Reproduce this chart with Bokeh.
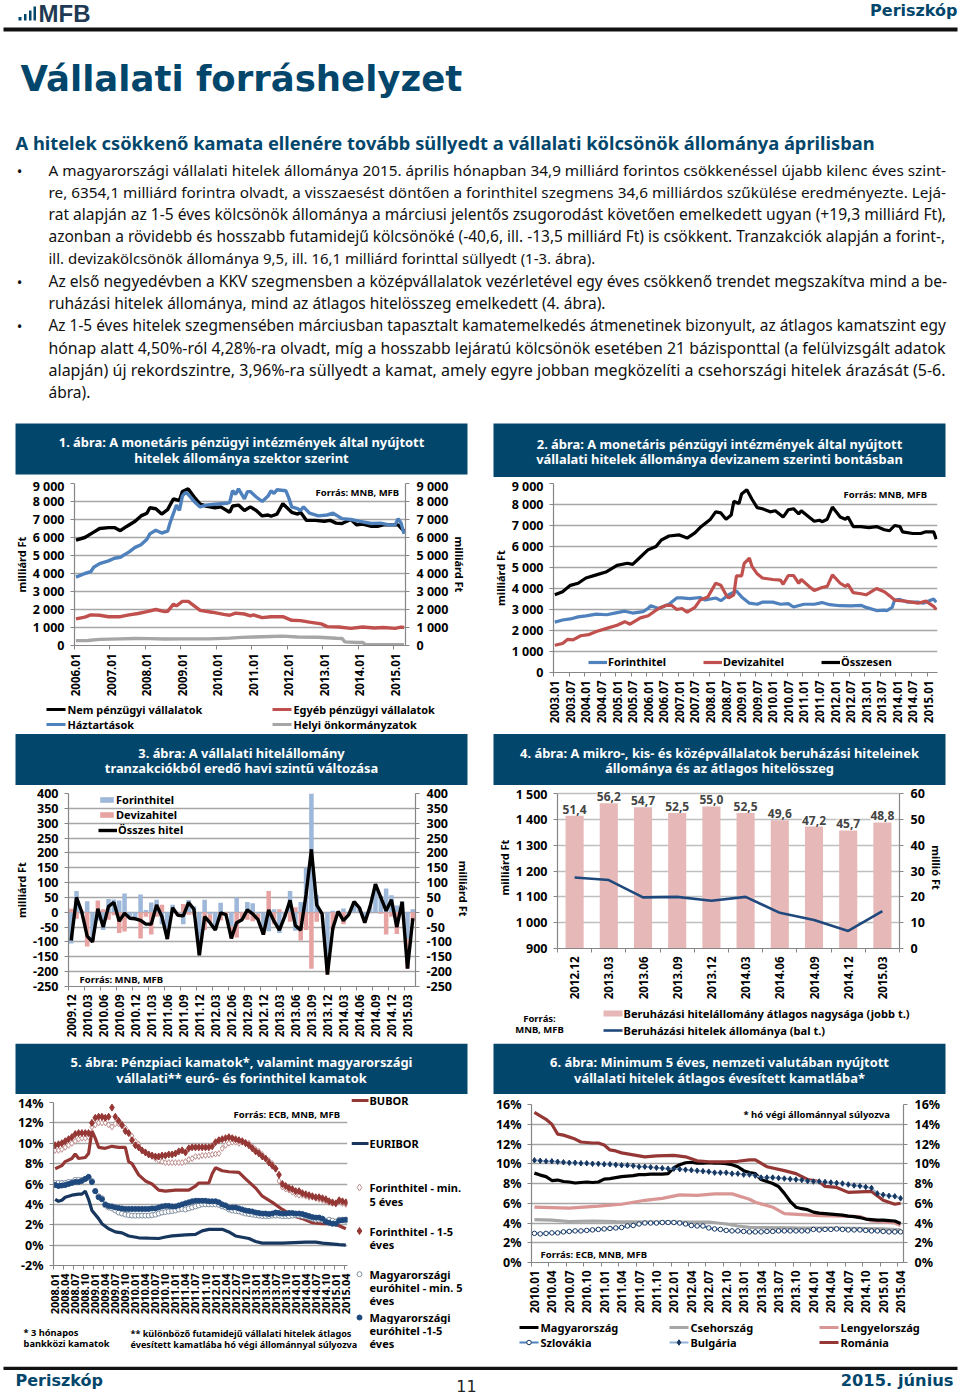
import math
import numpy as np
from bokeh.plotting import figure
from bokeh.models import Range1d, LinearAxis, FixedTicker, Legend, LegendItem, Label, Column, Row
from bokeh.core.properties import value
from bokeh.embed import file_html
from bokeh.resources import INLINE

# ---------- data ----------
c1_black_t = [0,3,6,8,11,13,15,17,20,22,24,25,27,29,31,33,35,36,38,40,42,44,47,49,52,53,55,57,59,61,63,65,66,68,70,73,75,76,78,81,84,86,88,90,93,95,97,100,102,104,107,109,111]
c1_black_v = [5850,6000,6300,6500,6550,6550,6380,6600,6900,7200,7350,7650,7600,7300,7550,8150,8050,8550,8700,8250,7850,7750,7650,7700,7400,7750,7800,7500,7700,7500,7200,7250,7180,7300,7880,7400,7300,7400,6950,6950,6900,6950,6800,6780,7000,6700,6750,6620,6620,6700,6700,6700,6350]
c1_blue_t = [0,3,5,6,8,11,13,15,18,20,22,24,25,27,29,31,32,34,35,36,37,38,40,42,44,47,51,52,53,54,55,57,58,59,61,63,65,66,67,68,71,72,73,75,76,77,79,82,85,87,90,93,96,100,103,106,108,109,110,111]
c1_blue_v = [3800,4000,4100,4350,4550,4700,4850,4900,5200,5450,5600,5900,6200,6400,6250,6350,6900,7800,7500,8300,8500,8400,8000,7700,7800,7850,7900,7950,8600,8400,8700,8150,8550,8550,8250,8000,8300,8600,8450,8650,8600,8200,7700,7600,7500,7700,7350,7200,7250,7350,7050,7000,6900,6780,6800,6700,6700,7050,6800,6200]
c1_red_t = [0,3,5,8,11,15,18,21,24,27,30,31,33,34,36,38,42,46,50,52,54,57,59,60,63,66,70,73,76,79,83,85,89,93,97,101,104,108,110,111]
c1_red_v = [1480,1580,1700,1680,1600,1600,1700,1780,1880,2000,1880,1900,2300,2200,2450,2450,1950,1850,1730,1680,1800,1750,1650,1700,1550,1600,1600,1400,1380,1300,1200,1050,1030,950,1030,970,1000,950,1020,1000]
c1_grey_t = [0,4,8,15,20,25,30,36,45,52,56,60,66,70,75,82,88,90,91,95,97,98,111]
c1_grey_v = [270,280,340,370,390,380,360,370,370,410,450,470,500,520,470,460,400,390,200,170,170,50,50]
c1_years = ["2006.01","2007.01","2008.01","2009.01","2010.01","2011.01","2012.01","2013.01","2014.01","2015.01"]
y_thousands = [0,1000,2000,3000,4000,5000,6000,7000,8000,9000]
y_thousands_lab = ["0","1 000","2 000","3 000","4 000","5 000","6 000","7 000","8 000","9 000"]

c2_black_t = [0,3,6,9,12,16,20,24,28,30,33,36,39,41,44,48,51,54,56,60,62,64,66,68,69,71,72,74,76,78,80,83,85,88,90,92,94,95,97,100,102,103,105,107,110,112,113,115,118,121,124,127,129,131,133,134,138,141,143,146,147]
c2_black_v = [3700,3850,4150,4250,4500,4650,4800,5100,5200,5150,5500,5850,6000,6300,6500,6550,6400,6650,6900,7300,7650,7600,7300,7500,8150,8050,8500,8700,8250,7850,7800,7650,7700,7400,7750,7800,7550,7700,7500,7200,7250,7180,7300,7880,7400,7300,7400,6950,6950,6900,6950,6800,6750,7000,6950,6700,6620,6620,6700,6700,6350]
c2_blue_t = [0,3,6,9,12,16,20,24,27,30,34,36,37,40,44,47,49,52,56,58,62,64,67,70,72,75,78,80,84,87,90,92,96,100,103,106,110,114,118,120,124,127,128,130,131,133,136,140,142,146,147]
c2_blue_v = [2400,2500,2550,2650,2700,2780,2750,2850,2920,2830,2900,3050,3180,3050,3250,3550,3550,3520,3570,3450,3550,3420,3700,3880,3600,3300,3250,3350,3350,3250,3280,3120,3250,3250,3330,3230,3180,3170,3200,3100,2950,2970,2950,3100,3450,3480,3350,3350,3300,3500,3350]
c2_red_t = [0,3,5,7,10,13,16,20,24,27,29,33,36,40,43,45,47,49,51,54,56,59,62,64,66,67,69,70,72,73,75,76,78,80,84,87,88,90,92,94,95,98,100,103,105,107,110,112,113,115,118,120,122,124,127,129,131,135,140,143,146,147]
c2_red_v = [1300,1380,1580,1550,1750,1800,1950,2100,2250,2420,2300,2600,2700,3050,3200,3200,3000,3050,2870,3100,3450,3600,4250,4150,3700,3550,3700,4600,4600,5200,5450,5050,4700,4500,4430,4400,4200,4620,4620,4250,4430,4100,3900,4050,4100,4650,4250,4100,4200,3800,3750,3700,3850,4000,3850,3650,3450,3400,3300,3400,3150,3000]
c2_labels = ["2003.01","2003.07","2004.01","2004.07","2005.01","2005.07","2006.01","2006.07","2007.01","2007.07","2008.01","2008.07","2009.01","2009.07","2010.01","2010.07","2011.01","2011.07","2012.01","2012.07","2013.01","2013.07","2014.01","2014.07","2015.01"]

c3_forint = [-105,72,-5,37,-95,-28,-60,45,43,40,63,-15,-19,60,8,33,42,-40,-82,25,-2,-40,41,20,-140,42,-7,-45,32,0,-48,50,0,35,30,-5,-65,-64,10,-70,-12,72,-62,35,150,402,57,-2,-160,5,0,13,-5,33,13,-25,15,90,55,80,57,23,37,-90,10]
c3_deviza = [12,-22,5,-115,-5,40,10,-25,-10,-70,-65,-5,-3,-88,-15,-75,-15,25,-8,-3,-10,28,-8,-10,-5,-60,-28,-15,-28,-8,-40,-85,-25,-25,-30,-20,-10,72,-40,10,-3,-32,17,-95,-60,-190,-32,-3,-50,-60,3,-40,-3,3,2,-10,5,5,-5,-75,-15,-73,-2,-100,-30]
c3_total = [-95,50,0,-80,-100,12,-50,20,33,-30,-3,-20,-22,-27,-40,-40,25,-15,-90,15,-10,-12,33,10,-145,-15,-35,-60,-2,-8,-88,-35,-25,8,-5,-25,-75,8,-30,-60,-15,40,-45,-60,60,212,25,-5,-210,-55,3,-28,-8,36,15,-35,20,95,50,5,42,-50,35,-190,-20]
c3_labels = ["2009.12","2010.03","2010.06","2010.09","2010.12","2011.03","2011.06","2011.09","2011.12","2012.03","2012.06","2012.09","2012.12","2013.03","2013.06","2013.09","2013.12","2014.03","2014.06","2014.09","2014.12","2015.03"]
c3_y = [-250,-200,-150,-100,-50,0,50,100,150,200,250,300,350,400]

c4_cats = ["2012.12","2013.03","2013.06","2013.09","2013.12","2014.03","2014.06","2014.09","2014.12","2015.03"]
c4_avg = [51.4,56.2,54.7,52.5,55.0,52.5,49.6,47.2,45.7,48.8]
c4_stock = [1175,1165,1098,1100,1085,1100,1038,1010,968,1045]
c4_left = [900,1000,1100,1200,1300,1400,1500]
c4_left_lab = ["900","1 000","1 100","1 200","1 300","1 400","1 500"]
c4_right = [0,10,20,30,40,50,60]

c5_bubor_t = [0,2,3,5,6,7,9,10,11,12,13,15,17,19,21,22,23,25,27,29,31,33,36,38,40,42,43,46,47,48,50,52,55,57,60,62,65,68,71,74,77,80,83,85,87]
c5_bubor_v = [7.5,7.8,8.2,8.5,8.95,8.5,8.6,9.0,11.2,10.5,9.6,9.5,9.7,9.6,9.6,8.2,8.0,6.9,6.3,6.0,5.4,5.3,5.4,5.4,5.4,5.8,6.1,6.1,7.0,7.6,7.3,7.2,7.15,6.5,5.6,4.8,4.2,3.5,2.9,2.6,2.2,2.1,2.1,1.9,1.6]
c5_euribor_t = [0,1,2,3,5,7,8,9,10,11,13,14,16,18,20,22,25,28,31,33,35,37,39,42,44,46,50,52,54,58,60,62,68,75,78,80,85,87]
c5_euribor_v = [4.5,4.3,4.4,4.7,4.9,5.0,5.0,5.3,4.5,3.4,2.6,2.1,1.6,1.3,1.2,0.9,0.72,0.68,0.65,0.8,0.9,0.95,1.0,1.05,1.4,1.55,1.55,1.3,0.9,0.65,0.35,0.2,0.2,0.3,0.3,0.2,0.05,0.0]
c5_f5 = [9.3,9.3,9.4,9.6,9.8,10,10.2,10.4,10.5,10.5,10.6,11.6,11.8,12,12,12,11.8,11.6,11.9,11.9,11.7,11.5,11,10.7,10.2,9.9,9.3,9.1,8.9,8.7,8.5,8.3,8.2,8.1,8.1,8.1,8.1,8.1,8.1,8.2,8.4,8.5,8.7,8.7,8.8,8.8,8.85,8.9,8.95,9.0,9.5,9.8,10.0,10.1,10.1,10.0,10.1,10.1,10.0,9.7,9.4,9.2,8.9,8.5,8.3,8.0,7.5,6.3,5.7,5.5,5.4,5.2,5.0,4.9,4.9,4.8,4.7,4.7,4.6,4.5,4.4,4.3,4.2,4.1,4.1,4.3,4.1,4.0]
c5_f15 = [9.8,9.9,10,10.2,10.4,10.6,10.9,11,11,11,11,12,12.5,12.6,12.6,12.5,12.6,13.5,12.6,12.2,11.8,11.2,11,10.3,9.8,9.6,9.3,9.1,8.9,8.8,8.7,8.7,8.8,8.8,8.9,8.9,9,9.2,9.3,9.1,9.5,9.6,9.6,9.6,9.6,9.6,9.6,9.7,10.1,10.3,10.4,10.5,10.6,10.5,10.4,10.3,10.2,10,9.8,9.5,9.2,9,8.7,8.5,8.1,7.8,7.5,6.9,6,5.8,5.6,5.5,5.3,5.3,5.1,5,4.9,4.8,4.7,4.7,4.6,4.5,4.3,4.2,4.1,4.4,4.3,4.2]
c5_e5 = [6.1,6.1,6.1,6.1,6.2,6.2,6.4,6.4,6.4,6.5,6.6,6.3,5.3,4.8,4.6,3.9,3.7,3.6,3.4,3.2,3.1,3.0,2.95,2.9,2.9,2.9,2.9,2.9,2.9,2.95,3.0,3.1,3.2,3.25,3.3,3.35,3.4,3.5,3.55,3.5,3.6,3.7,3.8,3.9,4.0,4.0,4.0,4.0,4.0,3.95,3.8,3.7,3.5,3.4,3.35,3.3,3.2,3.1,3.05,3.0,2.95,2.9,2.85,2.85,2.85,2.9,2.9,2.9,2.85,2.85,2.85,2.9,2.95,2.9,2.85,2.8,2.7,2.6,2.5,2.5,2.45,2.4,2.5,2.4,2.3,2.5,2.5,2.4]
c5_e15 = [5.9,5.8,5.85,5.9,6.0,6.1,6.2,6.2,6.3,6.5,6.7,6.2,5.3,4.7,4.5,4.0,3.85,3.8,3.7,3.65,3.6,3.55,3.55,3.55,3.55,3.55,3.55,3.55,3.55,3.6,3.6,3.7,3.8,3.85,3.85,3.8,3.8,3.9,4.0,4.1,4.2,4.3,4.35,4.35,4.35,4.35,4.3,4.3,4.3,4.2,4.0,3.9,3.7,3.7,3.7,3.6,3.5,3.4,3.35,3.3,3.2,3.15,3.1,3.1,3.05,3.1,3.2,3.15,3.1,3.1,3.15,3.15,3.1,3.1,3.05,2.95,2.85,2.75,2.7,2.7,2.6,2.3,2.2,2.1,2.1,2.4,2.45,2.5]
c5_labels = [f"{y}.{m:02d}" for y in range(2008, 2016) for m in (1, 4, 7, 10)][:30]
pct5 = [-2,0,2,4,6,8,10,12,14]
pct6 = [0,2,4,6,8,10,12,14,16]

c6_hu = [9.05,8.85,8.7,8.3,8.35,8.2,8.15,8.05,8.1,8.15,8.1,8.15,8.45,8.5,8.6,8.7,8.75,8.8,8.9,8.9,8.95,8.95,8.95,9.0,9.6,9.9,10.1,10.15,10.05,10.05,10.1,10.05,10.05,10,9.9,9.7,9.3,9.1,9.0,8.4,8.2,8.0,7.7,7.0,6.2,5.6,5.45,5.35,5.1,5.0,4.95,4.9,4.85,4.8,4.7,4.65,4.55,4.4,4.35,4.3,4.3,4.25,4.2,3.95]
c6_cz_t = [0,3,6,10,14,20,30,33,35,37,45,55,60,63]
c6_cz_v = [4.35,4.3,4.15,4.2,4.15,4.1,4.1,3.9,3.7,3.55,3.5,3.45,3.4,3.3]
c6_pl_t = [0,6,11,15,19,22,25,28,31,34,37,38,41,43,46,49,53,56,58,62,63]
c6_pl_v = [5.6,5.5,5.7,5.9,6.3,6.5,6.85,6.8,6.95,6.95,6.4,6.1,5.6,4.95,4.85,4.75,4.7,4.65,4.2,4.0,3.75]
c6_sk = [2.95,2.9,2.95,3,3,3.1,3.15,3.2,3.2,3.25,3.3,3.35,3.4,3.45,3.5,3.55,3.7,3.75,3.9,4,4,4,4.05,4.05,4.05,4,3.9,3.75,3.7,3.7,3.5,3.4,3.35,3.25,3.2,3.2,3.15,3.1,3.1,3.1,3.15,3.15,3.2,3.2,3.2,3.2,3.2,3.2,3.35,3.3,3.35,3.35,3.4,3.35,3.3,3.3,3.3,3.25,3.2,3.2,3.15,3.1,3.1,3.1]
c6_bg = [10.35,10.3,10.25,10.25,10.2,10.15,10.1,10.1,10.05,10.05,10,10,9.95,9.95,9.9,9.85,9.85,9.8,9.7,9.7,9.65,9.6,9.55,9.5,9.5,9.45,9.4,9.35,9.3,9.25,9.2,9.1,9.1,9.1,9,9,8.9,8.9,8.8,8.6,8.6,8.6,8.55,8.5,8.45,8.4,8.35,8.25,8.2,8.2,8.15,8.1,8.05,8,7.9,7.8,7.75,7.65,7.55,7,6.85,6.75,6.7,6.5]
c6_ro_t = [0,2,3,4,5,7,8,10,11,12,13,14,15,16,18,19,21,24,26,28,30,33,35,37,38,40,43,45,47,49,50,52,54,58,60,62,63]
c6_ro_v = [15.2,14.5,14.0,13.0,12.9,12.5,12.2,12.1,12.1,11.9,11.4,11.3,11.1,11,10.8,10.7,10.8,10.85,10.7,10.3,10.2,10.2,10.25,10.4,10.4,9.7,9.3,9.0,8.4,8.2,7.7,7.6,7.1,7.2,6.3,5.9,6.0]
c6_labels = [f"{y}.{m:02d}" for y in range(2010, 2016) for m in (1, 4, 7, 10)][:22]

body_lines = [
 "A magyarországi vállalati hitelek állománya 2015. április hónapban 34,9 milliárd forintos csökkenéssel újabb kilenc éves szint-",
 "re, 6354,1 milliárd forintra olvadt, a visszaesést döntően a forinthitel szegmens 34,6 milliárdos szűkülése eredményezte. Lejá-",
 "rat alapján az 1-5 éves kölcsönök állománya a márciusi jelentős zsugorodást követően emelkedett ugyan (+19,3 milliárd Ft),",
 "azonban a rövidebb és hosszabb futamidejű kölcsönöké (-40,6, ill. -13,5 milliárd Ft) is csökkent. Tranzakciók alapján a forint-,",
 "ill. devizakölcsönök állománya 9,5, ill. 16,1 milliárd forinttal süllyedt (1-3. ábra).",
 "Az első negyedévben a KKV szegmensben a középvállalatok vezérletével egy éves csökkenő trendet megszakítva mind a be-",
 "ruházási hitelek állománya, mind az átlagos hitelösszeg emelkedett (4. ábra).",
 "Az 1-5 éves hitelek szegmensében márciusban tapasztalt kamatemelkedés átmenetinek bizonyult, az átlagos kamatszint egy",
 "hónap alatt 4,50%-ról 4,28%-ra olvadt, míg a hosszabb lejáratú kölcsönök esetében 21 bázisponttal (a felülvizsgált adatok",
 "alapján) új rekordszintre, 3,96%-ra süllyedt a kamat, amely egyre jobban megközelíti a csehországi hitelek árazását (5-6.",
 "ábra).",
]
body_sizes = [15.3, 15.32, 15.6, 15.49, 14.95, 15.55, 15.5, 15.41, 15.84, 16.04, 15.5]

# ---------- helpers ----------
NAVY = "#03466B"
FONT = "Noto Sans"
AX = 12.5
GRID = "#A6A6A6"
AXL = "#868686"
BLUE, RED, GREY = "#4F81BD", "#C0504D", "#A6A6A6"

def T(p, x, y, s, size, color="black", font=FONT, bold=False, align="left", base="middle"):
    p.text([x], [y], text=[s], text_font=value(font), text_font_size=value(f"{size}px"),
           text_font_style="bold" if bold else "normal", text_color=color,
           text_align=align, text_baseline=base)

def canvas(y0, y1, x0=0, x1=960):
    p = figure(width=x1 - x0, height=y1 - y0, x_range=Range1d(x0, x1), y_range=Range1d(y1, y0),
               toolbar_location=None, output_backend="svg", min_border=0, outline_line_color=None,
               frame_align=False)
    p.axis.visible = False
    p.grid.visible = False
    return p

def banner(p, x0, x1, y0, y1, l1, l2, c1, c2):
    p.quad(left=[x0], right=[x1], top=[y0], bottom=[y1], fill_color=NAVY, line_color=None)
    xc = (x0 + x1) / 2
    T(p, xc, c1, l1, 12.9, "white", bold=True, align="center")
    T(p, xc, c2, l2, 12.9, "white", bold=True, align="center")

def chart(w, h, l, r, t, b, xr, yr, page_left, page_bottom):
    p = figure(width=w, height=h, x_range=Range1d(*xr), y_range=Range1d(*yr), toolbar_location=None,
               output_backend="svg", min_border_left=l, min_border_right=r, min_border_top=t,
               min_border_bottom=b, outline_line_color=None, x_axis_type="linear", frame_align=False)
    p.xgrid.visible = False
    p.ygrid.grid_line_color = GRID
    p.ygrid.grid_line_width = 1.5
    p.tags = [page_left, page_bottom]
    return p

def style(ax, ticks, labels, size=AX, standoff=6):
    ax.ticker = FixedTicker(ticks=list(ticks))
    ax.major_label_overrides = {t: s for t, s in zip(ticks, labels)}
    ax.major_label_text_font = FONT
    ax.major_label_text_font_style = "bold"
    ax.major_label_text_font_size = f"{size}px"
    ax.major_label_text_color = "black"
    ax.axis_line_color = AXL
    ax.axis_line_width = 1.2
    ax.major_tick_line_color = AXL
    ax.major_tick_in = 0
    ax.major_tick_out = 4
    ax.minor_tick_line_color = None
    ax.major_label_standoff = standoff
    ax.axis_label_text_font = FONT
    ax.axis_label_text_font_style = "bold"
    ax.axis_label_text_font_size = "11px"
    ax.axis_label_text_color = "black"
    ax.axis_label_standoff = 1

def xstyle(ax, centers, labels, bounds, size=11.5):
    style(ax, centers, labels, size, 4)
    ax.ticker = FixedTicker(ticks=list(centers), minor_ticks=list(bounds))
    ax.major_tick_out = 0
    ax.minor_tick_line_color = AXL
    ax.minor_tick_out = 4
    ax.minor_tick_in = 0
    ax.major_label_orientation = math.pi / 2

def L(p, px, py, s, size=10, bold=True, align="left", color="black"):
    fl, fb = p.tags
    p.add_layout(Label(x=px - fl, y=fb - py, x_units="screen", y_units="screen", text=s,
                       text_font=FONT, text_font_style="bold" if bold else "normal",
                       text_font_size=f"{size}px", text_color=color, text_align=align,
                       text_baseline="middle"))

def LG(p, px, py, s, rends, gw=19, gh=14, size=11):
    fl, fb = p.tags
    leg = Legend(items=[LegendItem(label=value(s), renderers=rends)], location=(px - fl, fb - py - 7),
                 padding=0, margin=0, spacing=0, label_standoff=1, glyph_width=gw, glyph_height=gh,
                 label_height=14, background_fill_alpha=0, border_line_color=None,
                 label_text_font=FONT, label_text_font_style="bold", label_text_font_size=f"{size}px",
                 label_text_color="black", label_text_baseline="middle")
    p.add_layout(leg, "center")

def KL(p, x, y, s, color, size=10.9, w=3.2, gap=20):
    p.segment([x], [y], [x + 19], [y], line_color=color, line_width=w)
    T(p, x + gap + 1, y, s, size, bold=True)

def mid(a):
    return [v + 0.5 for v in a]

def idx(a):
    return np.arange(len(a)) + 0.5

# ---------- header ----------
hd = canvas(0, 477)
hd.quad(left=[18, 23.5, 28.5, 33], right=[21, 26, 31, 35.5], top=[16.5, 13.5, 10, 6], bottom=[20, 20, 20, 20],
        fill_color=NAVY, line_color=None)
T(hd, 38, 12.5, "MFB", 24, "#1F3A52", "Liberation Sans", True)
T(hd, 957, 10, "Periszkóp", 16, NAVY, "DejaVu Sans", True, align="right")
hd.quad(left=[3], right=[957], top=[27], bottom=[31], fill_color="#111111", line_color=None)
T(hd, 20, 78, "Vállalati forráshelyzet", 35.5, NAVY, "DejaVu Sans", True)
T(hd, 15, 141.5, "A hitelek csökkenő kamata ellenére tovább süllyedt a vállalati kölcsönök állománya áprilisban",
  18.3, NAVY, FONT, True)
ys = [169.5, 191.5, 213.5, 235.5, 257.5, 280.5, 302.5, 324.5, 347.5, 369.5, 391.5]
for line, y, sz in zip(body_lines, ys, body_sizes):
    T(hd, 48, y, line, sz, "#111111", FONT)
for y in (170, 281, 325):
    T(hd, 19, y, "•", 15, "#111111", FONT, align="center")
banner(hd, 15, 467, 423, 474, "1. ábra: A monetáris pénzügyi intézmények által nyújtott",
       "hitelek állománya szektor szerint", 441, 457)
banner(hd, 493, 945, 423, 477, "2. ábra: A monetáris pénzügyi intézmények által nyújtott",
       "vállalati hitelek állománya devizanem szerinti bontásban", 443, 458)

# ---------- chart 1 ----------
c1 = chart(480, 226, 74, 75, 6, 58, (0, 112), (0, 9000), 74, 645)
c1.line(mid(c1_grey_t), c1_grey_v, color=GREY, line_width=3.4)
c1.line(mid(c1_red_t), c1_red_v, color=RED, line_width=3.4)
c1.line(mid(c1_black_t), c1_black_v, color="black", line_width=3.4)
c1.line(mid(c1_blue_t), c1_blue_v, color=BLUE, line_width=3.4)
style(c1.yaxis[0], y_thousands, y_thousands_lab)
c1.yaxis[0].axis_label = "milliárd Ft"
xstyle(c1.xaxis[0], [0.5 + 12 * i for i in range(10)], c1_years, [12 * i for i in range(10)])
c1.extra_y_ranges["r"] = Range1d(0, 9000)
ra = LinearAxis(y_range_name="r", axis_label="milliárd Ft")
style(ra, y_thousands, y_thousands_lab, standoff=7)
c1.add_layout(ra, "right")
c1.ygrid.ticker = FixedTicker(ticks=y_thousands)
L(c1, 315, 491.5, "Forrás: MNB, MFB", 9.5)
strip1 = canvas(703, 733, 0, 480)
KL(strip1, 46, 709, "Nem pénzügyi vállalatok", "black")
KL(strip1, 46, 724, "Háztartások", BLUE)
KL(strip1, 272, 709, "Egyéb pénzügyi vállalatok", RED)
KL(strip1, 272, 724, "Helyi önkormányzatok", GREY)

# ---------- chart 2 ----------
c2 = chart(480, 256, 73, 23, 6, 61, (0, 148), (0, 9000), 553, 672)
b_b = c2.line(mid(c2_blue_t), c2_blue_v, color=BLUE, line_width=3.2)
b_r = c2.line(mid(c2_red_t), c2_red_v, color=RED, line_width=3.2)
b_k = c2.line(mid(c2_black_t), c2_black_v, color="black", line_width=3.2)
style(c2.yaxis[0], y_thousands, y_thousands_lab)
c2.yaxis[0].axis_label = "milliárd Ft"
xstyle(c2.xaxis[0], [0.5 + 6 * i for i in range(25)], c2_labels, [6 * i for i in range(25)])
c2.ygrid.ticker = FixedTicker(ticks=y_thousands)
L(c2, 843, 494, "Forrás: MNB, MFB", 9.5)
LG(c2, 588, 662, "Forinthitel", [b_b])
LG(c2, 703, 662, "Devizahitel", [b_r])
LG(c2, 821, 662, "Összesen", [b_k])

ban2 = canvas(733, 785)
banner(ban2, 15, 467, 733.5, 785, "3. ábra: A vállalati hitelállomány", "tranzakciókból eredő havi szintű változása", 752, 767)
banner(ban2, 493, 945, 733.5, 785, "4. ábra: A mikro-, kis- és középvállalatok beruházási hiteleinek",
       "állománya és az átlagos hitelösszeg", 752, 767)

# ---------- chart 3 ----------
c3 = chart(480, 258, 68, 65, 8, 57, (0, 65), (-250, 400), 68, 986)
xi = np.arange(65) + 0.5
fo = np.array(c3_forint, float)
de = np.array(c3_deviza, float)
de_base = np.where(np.sign(fo) == np.sign(de), fo, 0.0)
v_f = c3.vbar(x=xi, top=fo, bottom=0, width=0.85, fill_color="#9DB8D9", line_color=None)
v_d = c3.vbar(x=xi, top=de_base + de, bottom=de_base, width=0.85, fill_color="#E6A3A1", line_color=None)
v_t = c3.line(xi, c3_total, color="black", line_width=3.4)
y3l = [str(v) for v in c3_y]
style(c3.yaxis[0], c3_y, y3l)
c3.yaxis[0].axis_label = "milliárd Ft"
xstyle(c3.xaxis[0], [0.5 + 3 * i for i in range(22)], c3_labels, [3 * i for i in range(22)])
c3.extra_y_ranges["r"] = Range1d(-250, 400)
ra3 = LinearAxis(y_range_name="r", axis_label="milliárd  Ft")
style(ra3, c3_y, y3l, standoff=7)
c3.add_layout(ra3, "right")
c3.ygrid.ticker = FixedTicker(ticks=c3_y)
L(c3, 79, 979, "Forrás: MNB, MFB", 9.5)
LG(c3, 98, 800, "Forinthitel", [v_f], gw=17, gh=7)
LG(c3, 98, 815, "Devizahitel", [v_d], gw=17, gh=7)
LG(c3, 98, 830, "Összes hitel", [v_t], gw=19)

# ---------- chart 4 ----------
c4 = chart(480, 220, 77, 61, 1, 57, (0, 10), (900, 1527.1), 557, 948)
c4.extra_y_ranges["r"] = Range1d(0, 62.71)
xc = np.arange(10) + 0.5
w_b = c4.vbar(x=xc, top=c4_avg, bottom=0, width=0.53, fill_color="#E6B9B8", line_color=None, y_range_name="r")
w_l = c4.line(xc, c4_stock, color="#1F497D", line_width=2.6)
for xv, v in zip(xc, c4_avg):
    c4.add_layout(Label(x=float(xv), y=v, y_range_name="r", y_offset=2, text=f"{v:.1f}".replace(".", ","),
                        text_font=FONT, text_font_style="bold", text_font_size="12px", text_align="center",
                        text_baseline="bottom", background_fill_color="white"))
style(c4.yaxis[0], c4_left, c4_left_lab)
c4.yaxis[0].bounds = (900, 1500)
c4.yaxis[0].axis_label = "milliárd Ft"
xstyle(c4.xaxis[0], list(xc), c4_cats, list(range(11)))
ra4 = LinearAxis(y_range_name="r", axis_label="millió Ft", bounds=(0, 60))
style(ra4, c4_right, [str(v) for v in c4_right], standoff=7)
c4.add_layout(ra4, "right")
c4.ygrid.ticker = FixedTicker(ticks=c4_left)
c4.ygrid.grid_line_color = "#BFBFBF"
strip4 = canvas(1005, 1043, 480, 960)
T(strip4, 539, 1018, "Forrás:", 9.5, bold=True, align="center")
T(strip4, 539, 1029, "MNB, MFB", 9.5, bold=True, align="center")
strip4.quad(left=[603], right=[622], top=[1010], bottom=[1016], fill_color="#E6B9B8", line_color=None)
T(strip4, 623, 1013, "Beruházási hitelállomány átlagos nagysága (jobb t.)", 11.1, bold=True)
strip4.segment([603], [1030], [622], [1030], line_color="#1F497D", line_width=2.6)
T(strip4, 623, 1030, "Beruházási hitelek állománya (bal t.)", 11.1, bold=True)

ban3 = canvas(1043, 1094)
banner(ban3, 15, 467, 1043, 1094, "5. ábra: Pénzpiaci kamatok*, valamint magyarországi",
       "vállalati** euró- és forinthitel kamatok", 1061, 1077)
banner(ban3, 493, 945, 1043, 1094, "6. ábra: Minimum 5 éves, nemzeti valutában nyújtott",
       "vállalati hitelek átlagos évesített kamatlába*", 1061, 1077)

# ---------- chart 5 ----------
c5 = chart(351, 230, 53, 4, 8, 59, (0, 88), (-2, 14), 53, 1265)
c5.scatter(idx(c5_f5), c5_f5, marker="diamond", size=6, fill_color="white", line_color="#C09090", line_width=1)
c5.scatter(idx(c5_f15), c5_f15, marker="diamond", size=7, fill_color="#953735", line_color="#953735")
c5.line(mid(c5_bubor_t), c5_bubor_v, color="#953735", line_width=3.2)
c5.scatter(idx(c5_e5), c5_e5, marker="circle", size=5, fill_color="white", line_color="#7F8FA0", line_width=1)
c5.scatter(idx(c5_e15), c5_e15, marker="circle", size=5, fill_color="#1F497D", line_color="#1F497D")
c5.line(mid(c5_euribor_t), c5_euribor_v, color="#17375E", line_width=3.2)
style(c5.yaxis[0], pct5, [f"{v}%" for v in pct5])
xstyle(c5.xaxis[0], [0.5 + 3 * i for i in range(30)], c5_labels, [3 * i for i in range(30)], size=11)
c5.ygrid.ticker = FixedTicker(ticks=pct5)
L(c5, 233, 1114, "Forrás: ECB, MNB, MFB", 9.5)
s5a = canvas(1094, 1324, 351, 480)
s5a.segment([351], [1100], [368], [1100], line_color="#953735", line_width=3.2)
T(s5a, 369, 1100, "BUBOR", 11, bold=True)
s5a.segment([351], [1143], [368], [1143], line_color="#17375E", line_width=3.2)
T(s5a, 369, 1143, "EURIBOR", 11, bold=True)
s5a.scatter([359], [1187], marker="diamond", size=7, fill_color="white", line_color="#C09090", line_width=1)
T(s5a, 369, 1187, "Forinthitel - min.", 11, bold=True)
T(s5a, 369, 1201, "5 éves", 11, bold=True)
s5a.scatter([359], [1230.5], marker="diamond", size=7, fill_color="#953735", line_color="#953735")
T(s5a, 369, 1230.5, "Forinthitel - 1-5", 11, bold=True)
T(s5a, 369, 1244, "éves", 11, bold=True)
s5a.scatter([359], [1273.7], marker="circle", size=5, fill_color="white", line_color="#7F8FA0", line_width=1)
T(s5a, 369, 1273.7, "Magyarországi", 11, bold=True)
T(s5a, 369, 1287, "euróhitel - min. 5", 11, bold=True)
T(s5a, 369, 1300, "éves", 11, bold=True)
s5a.scatter([359], [1317], marker="circle", size=5, fill_color="#1F497D", line_color="#1F497D")
T(s5a, 369, 1317, "Magyarországi", 11, bold=True)
s5b = canvas(1324, 1366, 0, 480)
T(s5b, 369, 1330, "euróhitel -1-5", 11, bold=True)
T(s5b, 369, 1343, "éves", 11, bold=True)
T(s5b, 23, 1332, "* 3 hónapos", 9.3, bold=True)
T(s5b, 23, 1343, "bankközi kamatok", 9.3, bold=True)
T(s5b, 130, 1332.5, "** különböző futamidejű vállalati hitelek átlagos", 9.1, bold=True)
T(s5b, 130, 1344, "évesített kamatlába hó végi állománnyal súlyozva", 9.1, bold=True)

# ---------- chart 6 ----------
c6 = chart(480, 226, 51, 57, 10, 58, (0, 64), (0, 16), 531, 1262)
c6.line(mid(c6_cz_t), c6_cz_v, color=GREY, line_width=3.2)
c6.line(mid(c6_pl_t), c6_pl_v, color="#D99694", line_width=3.2)
c6.line(idx(c6_hu), c6_hu, color="black", line_width=3.2)
c6.line(mid(c6_ro_t), c6_ro_v, color="#953735", line_width=3.2)
c6.line(idx(c6_sk), c6_sk, color=BLUE, line_width=2)
c6.scatter(idx(c6_sk), c6_sk, marker="circle", size=4.5, fill_color="white", line_color="#17375E", line_width=1)
c6.line(idx(c6_bg), c6_bg, color="#95B3D7", line_width=2)
c6.scatter(idx(c6_bg), c6_bg, marker="diamond", size=5.5, fill_color="#17375E", line_color="#17375E")
style(c6.yaxis[0], pct6, [f"{v}%" for v in pct6])
xstyle(c6.xaxis[0], [0.5 + 3 * i for i in range(22)], c6_labels, [3 * i for i in range(22)])
c6.extra_y_ranges["r"] = Range1d(0, 16)
ra6 = LinearAxis(y_range_name="r")
style(ra6, pct6, [f"{v}%" for v in pct6], standoff=7)
c6.add_layout(ra6, "right")
c6.ygrid.ticker = FixedTicker(ticks=pct6)
L(c6, 743, 1114, "* hó végi állománnyal súlyozva", 9.5)
L(c6, 540, 1253.7, "Forrás: ECB, MNB, MFB", 9.5)
s6 = canvas(1320, 1366, 480, 960)
KL(s6, 519, 1327, "Magyarország", "black", 11)
KL(s6, 519, 1342, "Szlovákia", BLUE, 11, 2)
s6.scatter([528.5], [1342], marker="circle", size=4.5, fill_color="white", line_color="#17375E", line_width=1)
KL(s6, 669, 1327, "Csehország", GREY, 11)
KL(s6, 669, 1342, "Bulgária", "#95B3D7", 11, 2)
s6.scatter([678.5], [1342], marker="diamond", size=5.5, fill_color="#17375E", line_color="#17375E")
KL(s6, 819, 1327, "Lengyelország", "#D99694", 11)
KL(s6, 819, 1342, "Románia", "#953735", 11)

# ---------- footer ----------
ft = canvas(1366, 1394)
ft.quad(left=[3], right=[957], top=[1366], bottom=[1369.5], fill_color="#111111", line_color=None)
T(ft, 15, 1380, "Periszkóp", 16, NAVY, "DejaVu Sans", True)
T(ft, 466, 1385, "11", 16, "#222222", "DejaVu Sans", align="center")
T(ft, 953, 1380, "2015. június", 16.3, NAVY, "DejaVu Sans", True, align="right")

row1 = Row(children=[Column(children=[c1, strip1], spacing=0), c2], spacing=0)
row2 = Row(children=[c3, Column(children=[c4, strip4], spacing=0)], spacing=0)
left3 = Column(children=[Row(children=[c5, s5a], spacing=0), s5b], spacing=0)
row3 = Row(children=[left3, Column(children=[c6, s6], spacing=0)], spacing=0)
page = Column(children=[hd, row1, ban2, row2, ban3, row3, ft], spacing=0)
open("out.html", "w").write(file_html(page, INLINE))
